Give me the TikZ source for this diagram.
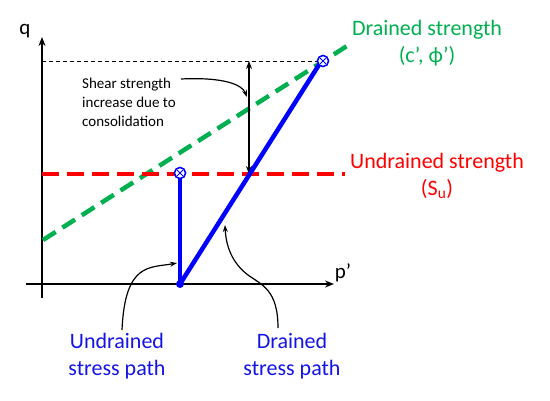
\documentclass[tikz,border=0pt]{standalone}
\usepackage{fontspec}
\setmainfont{Carlito}
\usetikzlibrary{arrows.meta}
\definecolor{dgreen}{RGB}{0,176,80}
\definecolor{dred}{RGB}{255,0,0}
\definecolor{dblue}{RGB}{0,0,255}
\definecolor{tblue}{RGB}{20,20,230}
\tikzset{
  axisline/.style={line width=1.8pt, -{Stealth[length=9pt,width=7pt]}},
  guide/.style={line width=0.8pt, dash pattern=on 4pt off 3pt},
  greenline/.style={dgreen, line width=4.5pt, dash pattern=on 15pt off 8pt},
  redline/.style={dred, line width=4.5pt, dash pattern=on 17pt off 8pt},
  pathline/.style={dblue, line width=4.5pt},
  annot/.style={line width=1.2pt, -{Stealth[length=7pt,width=5pt]}},
  dim/.style={line width=1.3pt, {Stealth[length=8pt,width=6pt]}-{Stealth[length=8pt,width=6pt]}},
  marker/.style={circle, draw=dblue, fill=white, line width=1.4pt, minimum size=11pt, inner sep=0pt,
    path picture={\draw[dblue, line width=0.9pt]
      ([shift={(-3pt,-3pt)}]path picture bounding box.center) -- ([shift={(3pt,3pt)}]path picture bounding box.center)
      ([shift={(-3pt,3pt)}]path picture bounding box.center) -- ([shift={(3pt,-3pt)}]path picture bounding box.center);}},
  bigtxt/.style={font=\fontsize{22}{27}\selectfont, align=center, inner sep=0pt},
  smalltxt/.style={font=\fontsize{15}{19}\selectfont, align=left, inner sep=0pt},
  axtxt/.style={font=\fontsize{21}{25}\selectfont, inner sep=0pt},
}
\begin{document}
\begin{tikzpicture}[x=1pt,y=-1pt]
\useasboundingbox[fill=white] (0,0) rectangle (550,400);
% coordinates
\coordinate (ybot) at (42,298);
\coordinate (ytop) at (42,37);
\coordinate (xl) at (26,284);
\coordinate (xr) at (334,284);
\coordinate (O) at (180,284);
\coordinate (gL) at (43,240);
\coordinate (gR) at (347,46);
\coordinate (rL) at (42,174);
\coordinate (rR) at (345,174);
\coordinate (dL) at (42,61);
\coordinate (aTop) at (249,61);
\coordinate (aBot) at (249,174);
% axes
\draw[axisline] (ybot) -- (ytop);
\draw[axisline] (xl) -- (xr);
\node[axtxt] (q) at (25,31) {q};
\node[axtxt] (p) at (343,273) {p’};
% strength lines
\draw[greenline] (gL) -- (gR);
\draw[redline] (rL) -- (rR);
% markers
\node[marker] (U) at (180,173) {};
\node[marker] (D) at (323,61) {};
\draw[guide] (dL) -- (D);
\draw[dim] (aBot) -- (aTop);
% stress paths
\draw[pathline, line cap=round] (O) -- (U.south);
\draw[pathline, line cap=round] (O) -- (D.south west);
\fill[dblue] (O) circle (4pt);
\node[marker] at (U) {};
\node[marker] at (D) {};
% labels
\node[bigtxt, text=dgreen] (dstr) at (427,43) {Drained strength\\(c’, ϕ’)};
\node[bigtxt, text=dred] (ustr) at (437,176) {Undrained strength\\(S\textsubscript{u})};
\node[smalltxt, anchor=west] (shear) at (82,102) {Shear strength\\increase due to\\consolidation};
\node[bigtxt, text=tblue] (ulab) at (117,356) {Undrained\\stress path};
\node[bigtxt, text=tblue] (dlab) at (292,356) {Drained\\stress path};
% annotation arrows
\coordinate (s0) at (181,79);
\coordinate (s1) at (247,97);
\draw[annot] (s0) .. controls (222,77) and (242,84) .. (s1);
\coordinate (u0) at (122,330);
\coordinate (u1) at (177,263);
\draw[annot] (u0) .. controls (125,262) and (150,268) .. (u1);
\coordinate (d0) at (278,328);
\coordinate (dm) at (248,275);
\coordinate (d1) at (225,225);
\draw[annot] (d0) .. controls (278,290) and (262,285) .. (dm) .. controls (232,263) and (226,246) .. (d1);
\end{tikzpicture}
\end{document}
